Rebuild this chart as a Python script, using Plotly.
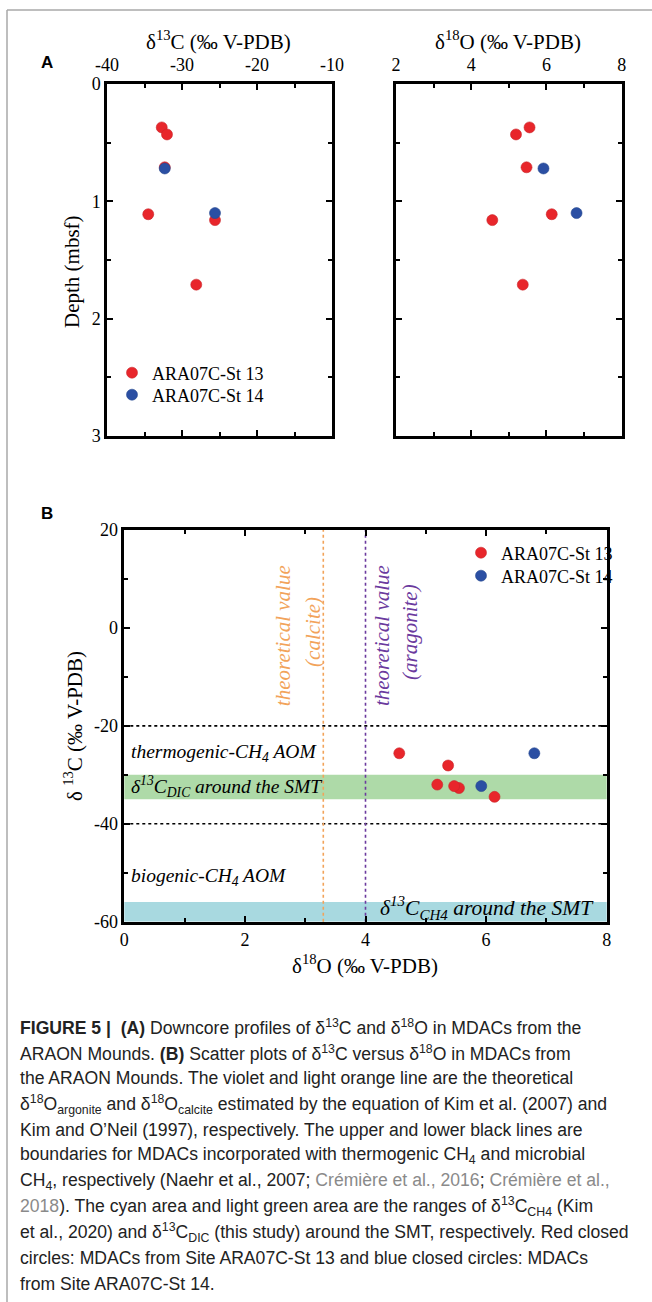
import plotly.graph_objects as go

W, H = 652, 1302

# ---------------- data ----------------
st13_name = "ARA07C-St 13"
st14_name = "ARA07C-St 14"
st13_depth = [0.37, 0.43, 0.71, 1.11, 1.16, 1.71]
st13_d13c = [-32.7, -32.0, -32.3, -34.5, -25.6, -28.1]
st13_d18o = [5.55, 5.19, 5.47, 6.14, 4.56, 5.37]
st14_depth = [0.72, 1.10]
st14_d13c = [-32.3, -25.6]
st14_d18o = [5.92, 6.80]

a_c13_ticks = [-40, -30, -20, -10]
a_o18_ticks = [2, 4, 6, 8]
depth_ticks = [0, 1, 2, 3]
b_o18_ticks = [0, 2, 4, 6, 8]
b_c13_ticks = [-60, -40, -20, 0, 20]

dic_band = [-35, -30]        # δ13C DIC around the SMT
ch4_band = [-60, -56]        # δ13C CH4 around the SMT
aom_boundaries = [-20, -40]  # thermogenic / biogenic boundaries
calcite_o18 = 3.3
aragonite_o18 = 4.0

RED = "#E8262B"
BLUE = "#2B4FA3"
SERIF = "Liberation Serif"
SANS = "Liberation Sans"


def px(x):
    return x / W


def py(y):
    return 1 - y / H


def hy(vals):
    return [str(v).replace("−", "-") for v in vals]


fig = go.Figure()
mk = dict(size=11, line=dict(width=0.6))

# Panel A left: d13C vs depth
fig.add_trace(go.Scatter(x=st13_d13c, y=st13_depth, mode="markers", name=st13_name,
                         marker=dict(color=RED, **mk), marker_line_color="#C9252A",
                         xaxis="x", yaxis="y", legend="legend"))
fig.add_trace(go.Scatter(x=st14_d13c, y=st14_depth, mode="markers", name=st14_name,
                         marker=dict(color=BLUE, **mk), marker_line_color="#24468F",
                         xaxis="x", yaxis="y", legend="legend2"))
# Panel A right: d18O vs depth
fig.add_trace(go.Scatter(x=st13_d18o, y=st13_depth, mode="markers", name=st13_name, showlegend=False,
                         marker=dict(color=RED, **mk), marker_line_color="#C9252A",
                         xaxis="x2", yaxis="y2"))
fig.add_trace(go.Scatter(x=st14_d18o, y=st14_depth, mode="markers", name=st14_name, showlegend=False,
                         marker=dict(color=BLUE, **mk), marker_line_color="#24468F",
                         xaxis="x2", yaxis="y2"))
# Panel B: d13C vs d18O
fig.add_trace(go.Scatter(x=st13_d18o, y=st13_d13c, mode="markers", name=st13_name,
                         marker=dict(color=RED, **mk), marker_line_color="#C9252A",
                         xaxis="x3", yaxis="y3", legend="legend3"))
fig.add_trace(go.Scatter(x=st14_d18o, y=st14_d13c, mode="markers", name=st14_name,
                         marker=dict(color=BLUE, **mk), marker_line_color="#24468F",
                         xaxis="x3", yaxis="y3", legend="legend4"))

axbase = dict(showline=True, linewidth=2.5, linecolor="black", mirror="ticks",
              ticks="inside", ticklen=6, tickwidth=2, tickcolor="black",
              showgrid=False, zeroline=False, automargin=False,
              tickfont=dict(family=SERIF, size=18, color="black"))


def minor(d):
    return dict(dtick=d, ticks="inside", ticklen=4, tickwidth=2, tickcolor="black")


fig.update_layout(
    width=W, height=H, margin=dict(l=0, r=0, t=0, b=0),
    paper_bgcolor="white", plot_bgcolor="white",
    xaxis=dict(axbase, domain=[px(107), px(332)], anchor="y", side="top", range=[-40, -10],
               tickvals=a_c13_ticks, ticktext=hy(a_c13_ticks), minor=minor(5), ticklabelstandoff=3),
    yaxis=dict(axbase, domain=[py(436), py(84)], anchor="x", range=[3, 0],
               tickvals=depth_ticks, ticktext=hy(depth_ticks), minor=minor(0.5)),
    xaxis2=dict(axbase, domain=[px(396), px(621.7)], anchor="y2", side="top", range=[2, 8],
                tickvals=a_o18_ticks, ticktext=hy(a_o18_ticks), minor=minor(1), ticklabelstandoff=3),
    yaxis2=dict(axbase, domain=[py(436), py(84)], anchor="x2", range=[3, 0],
                tickvals=depth_ticks, showticklabels=False, minor=minor(0.5)),
    xaxis3=dict(axbase, domain=[px(124.3), px(606.7)], anchor="y3", range=[0, 8],
                tickvals=b_o18_ticks, ticktext=hy(b_o18_ticks), minor=minor(1)),
    yaxis3=dict(axbase, domain=[py(921.7), py(530)], anchor="x3", range=[-60, 20],
                tickvals=b_c13_ticks, ticktext=hy(b_c13_ticks), minor=minor(10)),
)

legfont = dict(family=SERIF, size=18, color="black")


def leg(x, y):
    return dict(x=px(x), y=py(y), xanchor="left", yanchor="middle", bgcolor="rgba(0,0,0,0)",
                font=legfont, itemsizing="trace", tracegroupgap=0)


fig.update_layout(legend=leg(112, 373), legend2=leg(112, 395),
                  legend3=leg(461, 553), legend4=leg(461, 576))

shapes = []
# bands
shapes.append(dict(type="rect", xref="x3 domain", yref="y3", x0=0, x1=1, y0=dic_band[0], y1=dic_band[1],
                   fillcolor="#AEDAA8", line=dict(width=0), layer="below"))
shapes.append(dict(type="rect", xref="x3 domain", yref="y3", x0=0, x1=1, y0=ch4_band[0], y1=ch4_band[1],
                   fillcolor="#A8D9E0", line=dict(width=0), layer="below"))
for b in aom_boundaries:
    shapes.append(dict(type="line", xref="x3 domain", yref="y3", x0=0, x1=1, y0=b, y1=b,
                       line=dict(color="black", width=1.6, dash="dot"), layer="below"))
shapes.append(dict(type="line", xref="x3", yref="y3 domain", x0=calcite_o18, x1=calcite_o18, y0=0, y1=1,
                   line=dict(color="#F2A35A", width=1.6, dash="dot"), layer="below"))
shapes.append(dict(type="line", xref="x3", yref="y3 domain", x0=aragonite_o18, x1=aragonite_o18, y0=0, y1=1,
                   line=dict(color="#6B3A9E", width=1.6, dash="dot"), layer="below"))
# frame lines
shapes.append(dict(type="line", xref="paper", yref="paper", x0=px(7), x1=1, y0=py(10), y1=py(10),
                   line=dict(color="#A8A8A8", width=1.5)))
shapes.append(dict(type="line", xref="paper", yref="paper", x0=px(7), x1=px(7), y0=py(10), y1=0,
                   line=dict(color="#A8A8A8", width=1.5)))
fig.update_layout(shapes=shapes)

ann = []


def pa(text, x, y, size=21, family=SERIF, color="black", angle=0, xanchor="center", yanchor="middle"):
    ann.append(dict(text=text, x=px(x), y=py(y), xref="paper", yref="paper", showarrow=False,
                    font=dict(family=family, size=size, color=color), textangle=angle,
                    xanchor=xanchor, yanchor=yanchor))


# panel labels
pa("<b>A</b>", 47, 62, size=17, family=SANS)
pa("<b>B</b>", 47, 513, size=17, family=SANS)
# axis titles
pa("δ<sup>13</sup>C (‰ V-PDB)", 218, 41)
pa("δ<sup>18</sup>O (‰ V-PDB)", 508, 41)
pa("Depth (mbsf)", 72, 272, angle=-90)
pa("δ <sup>13</sup>C (‰ V-PDB)", 73, 726, angle=-90)
pa("δ<sup>18</sup>O (‰ V-PDB)", 365, 964)


# panel B in-plot labels (data coordinates)
def da(text, x, y, size=19, color="black", angle=0, xanchor="left"):
    ann.append(dict(text=text, x=x, y=y, xref="x3", yref="y3", showarrow=False,
                    font=dict(family=SERIF, size=size, color=color), textangle=angle,
                    xanchor=xanchor, yanchor="middle"))


da("<i>theoretical value</i>", 2.63, -1.5, size=21, color="#F2A35A", angle=-90, xanchor="center")
da("<i>(calcite)</i>", 3.13, -0.8, size=21, color="#F2A35A", angle=-90, xanchor="center")
da("<i>theoretical value</i>", 4.27, -1.5, size=21, color="#6B3A9E", angle=-90, xanchor="center")
da("<i>(aragonite)</i>", 4.74, -0.8, size=21, color="#6B3A9E", angle=-90, xanchor="center")
da("<i>thermogenic-CH<sub>4</sub> AOM</i>", 0.08, -25.5, size=19.5)
da("<i>δ<sup>13</sup>C<sub>DIC</sub> around the SMT</i>", 0.08, -32.3, size=19.5)
da("<i>biogenic-CH<sub>4</sub> AOM</i>", 0.08, -50.8, size=19.5)
da("<i>δ<sup>13</sup>C<sub>CH4</sub> around the SMT</i>", 4.2, -57.3, size=21.5)

# caption
GRAY = "#8A8A8A"
cap_lines = [
    "<b>FIGURE 5 |</b>  <b>(A)</b> Downcore profiles of δ<sup>13</sup>C and δ<sup>18</sup>O in MDACs from the",
    "ARAON Mounds. <b>(B)</b> Scatter plots of δ<sup>13</sup>C versus δ<sup>18</sup>O in MDACs from",
    "the ARAON Mounds. The violet and light orange line are the theoretical",
    "δ<sup>18</sup>O<sub>argonite</sub> and δ<sup>18</sup>O<sub>calcite</sub> estimated by the equation of Kim et al. (2007) and",
    "Kim and O’Neil (1997), respectively. The upper and lower black lines are",
    "boundaries for MDACs incorporated with thermogenic CH<sub>4</sub> and microbial",
    "CH<sub>4</sub>, respectively (Naehr et al., 2007; <span style='color:%s'>Crémière et al., 2016</span>; <span style='color:%s'>Crémière et al.,</span>" % (GRAY, GRAY),
    "<span style='color:%s'>2018</span>). The cyan area and light green area are the ranges of δ<sup>13</sup>C<sub>CH4</sub> (Kim" % GRAY,
    "et al., 2020) and δ<sup>13</sup>C<sub>DIC</sub> (this study) around the SMT, respectively. Red closed",
    "circles: MDACs from Site ARA07C-St 13 and blue closed circles: MDACs",
    "from Site ARA07C-St 14.",
]
cap_y0, cap_dy = 1027, 25.7
for i, t in enumerate(cap_lines):
    pa(t, 18, cap_y0 + i * cap_dy, size=17.6, family=SANS, color="#222222", xanchor="left")

fig.update_layout(annotations=ann)
fig.write_html("out.html")
